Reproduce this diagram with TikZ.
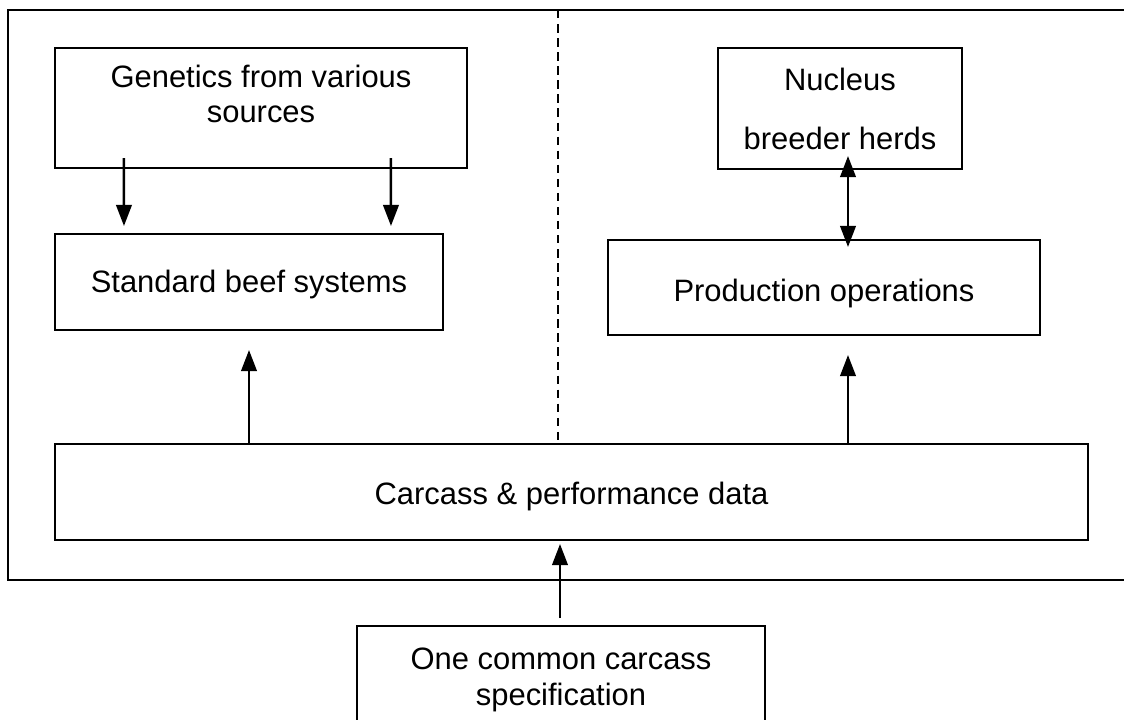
\documentclass[tikz,border=0pt]{standalone}
\usepackage{fontspec}
\setmainfont{Liberation Sans}
\usepackage{tikz}
\usetikzlibrary{calc}
\usetikzlibrary{arrows.meta}
\usetikzlibrary{positioning}

\begin{document}
\begin{tikzpicture}[x=0.025cm,y=-0.025cm,line width=1.4pt,
box/.style={draw,rectangle,inner sep=0pt},
txt/.style={align=center,inner sep=0pt,font=\fontsize{22}{25.5}\selectfont},
arr/.style={line width=1.8pt,-{Triangle[length=15pt,width=11pt]}},
dblarr/.style={line width=1.8pt,{Triangle[length=15pt,width=11pt]}-{Triangle[length=15pt,width=11pt]}}]
\clip (0,0) rectangle (1124,719);
% outer frame, open to the right
\draw (1130,10) -- (8,10) -- (8,580) -- (1130,580);
\node[box,minimum width=10.3cm,minimum height=3cm] (gen) at (261,108) {};
\node[txt] (gentxt) at (261,94) {Genetics from various\\sources};
\node[box,minimum width=9.7cm,minimum height=2.4cm] (std) at (249,282) {};
\node[txt] (stdtxt) at (249,284) {Standard beef systems};
\node[box,minimum width=6.1cm,minimum height=3.025cm] (nuc) at (840,108.5) {};
\node[txt] (nuctxt) at (840,109) {Nucleus\\[0.6cm]breeder herds};
\node[box,minimum width=10.8cm,minimum height=2.375cm] (prod) at (824,287.5) {};
\node[txt] (prodtxt) at (824,293) {Production operations};
\node[box,minimum width=25.825cm,minimum height=2.4cm] (carc) at (571.5,492) {};
\node[txt] (carctxt) at (571.5,496) {Carcass \& performance data};
\node[box,minimum width=10.2cm,minimum height=2.75cm] (one) at (561,681) {};
\node[txt] (onetxt) at (561,680) {One common carcass\\specification};
\coordinate (top) at (558,10);
\coordinate (prodin) at ([shift={(24,0)}]prod.south);
\draw[dash pattern=on 6pt off 4pt,line width=1pt] (top) -- (top |- carc.north);
\draw[arr] ([shift={(70,-11)}]gen.south west) -- ([shift={(70,-7)}]std.north west);
\draw[arr] ([shift={(337,-11)}]gen.south west) -- ([shift={(337,-7)}]std.north west);
\draw[dblarr] ([shift={(8,-14)}]nuc.south) -- ([shift={(24,8)}]prod.north);
\draw[arr] (std.south |- carc.north) -- ([shift={(0,19)}]std.south);
\draw[arr] (prodin |- carc.north) -- ([shift={(0,19)}]prodin);
\draw[arr] ([shift={(-1,-7)}]one.north) -- ([shift={(-11.5,3)}]carc.south);
\end{tikzpicture}
\end{document}
